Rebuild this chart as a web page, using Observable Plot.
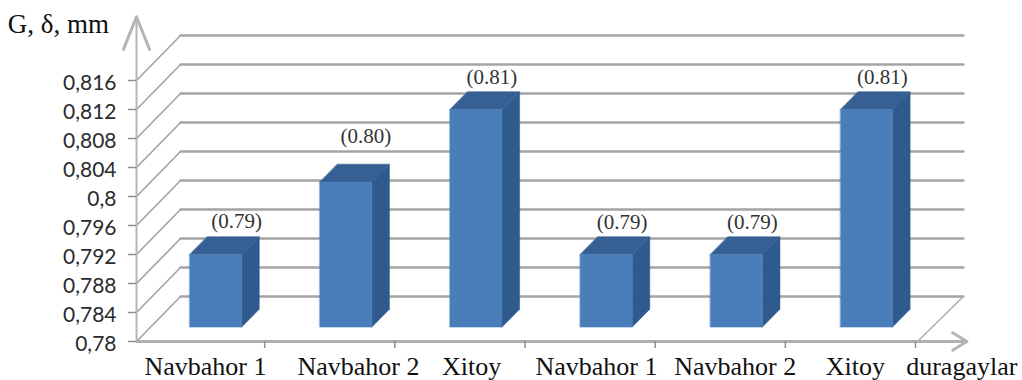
<!DOCTYPE html>
<html>
<head>
<meta charset="utf-8">
<script src="https://cdn.jsdelivr.net/npm/d3@7"></script>
<script src="https://cdn.jsdelivr.net/npm/@observablehq/plot@0.6"></script>
<style>
  html, body { margin: 0; padding: 0; background: #fff; }
  svg { display: block; }
</style>
</head>
<body>
<div id="chart"></div>
<script>
// Measured thickness by stop
const stops = ["Navbahor 1", "Navbahor 2", "Xitoy", "Navbahor 1", "Navbahor 2", "Xitoy"];
const thickness = [0.79, 0.80, 0.81, 0.79, 0.79, 0.81];
const valueLabels = ["(0.79)", "(0.80)", "(0.81)", "(0.79)", "(0.79)", "(0.81)"];
const yTicks = [0.78, 0.784, 0.788, 0.792, 0.796, 0.8, 0.804, 0.808, 0.812, 0.816];
const yTickLabels = ["0,78", "0,784", "0,788", "0,792", "0,796", "0,8", "0,804", "0,808", "0,812", "0,816"];
const xAxisTitle = "duragaylar";
const yAxisTitle = "G, δ, mm";

// Category caption anchors along the floor, in stop units
const captionAnchors = [0.53, 1.705, 2.574, 3.534, 4.60, 5.523];

// Oblique projection: how far one full unit of depth moves a point
const skewX = 0.338;
const skewY = 0.0062;
const project = (x, v, depth) => ({x: x + depth * skewX, y: v + depth * skewY});

const barWidth = 0.4;
const barFront = 0.32;
const barRear = 0.72;
const yBase = yTicks[0];
const yEnd = yTicks[yTicks.length - 1];
const xEnd = stops.length;

// Wall and floor lines
const wallRight = 6.353;
const slants = yTicks.map((v) => [project(0, v, 0), project(0, v, 1)]);
const backLines = yTicks.map((v) => [project(0, v, 1), {x: wallRight, y: v + skewY}]);
const floorEdge = [project(xEnd, yBase, 0), {x: wallRight, y: yBase + skewY}];

// Three visible faces of each bar
const face = (i, v, which) => {
  const l = i + 0.5 - barWidth / 2, r = i + 0.5 + barWidth / 2;
  if (which === "front") return [[l, yBase, barFront], [r, yBase, barFront], [r, v, barFront], [l, v, barFront]];
  if (which === "side") return [[r, yBase, barFront], [r, yBase, barRear], [r, v, barRear], [r, v, barFront]];
  return [[l, v, barFront], [r, v, barFront], [r, v, barRear], [l, v, barRear]];
};
const faces = (which) => thickness.flatMap((v, i) =>
  face(i, v, which).map(([x, y, d]) => ({bar: i, ...project(x, y, d)})));

const faceMark = (which, color) =>
  Plot.line(faces(which), {x: "x", y: "y", z: "bar", fill: color, stroke: color, strokeWidth: 0.5, curve: "linear-closed"});

const gridLine = (segments, color, strokeWidth) =>
  Plot.line(segments.flatMap((s, k) => s.map((p) => ({...p, k}))), {x: "x", y: "y", z: "k", stroke: color, strokeWidth});

const serif = "'Liberation Serif', 'Times New Roman', serif";
const labelled = thickness.map((v, i) => ({i, v, text: valueLabels[i]}));
const labelMark = (rows, dx, dy) =>
  Plot.text(rows, {
    x: (d) => project(d.i + 0.5, d.v, barFront).x,
    y: (d) => project(d.i + 0.5, d.v, barFront).y,
    text: "text", dx, dy, fontFamily: serif, fontSize: 21, fill: "#333"
  });

const chart = Plot.plot({
  width: 1022,
  height: 380,
  marginLeft: 136,
  marginRight: 105,
  marginTop: 80,
  marginBottom: 39,
  style: {background: "#fff", overflow: "visible"},
  x: {domain: [0, xEnd], axis: null},
  y: {domain: [yBase, yEnd], axis: null},
  marks: [
    gridLine(slants, "#a2a2a2", 1.6),
    gridLine(backLines, "#a4a4a4", 2.4),
    gridLine([floorEdge], "#b0b0b0", 1.6),
    faceMark("side", "#2f5a8e"),
    faceMark("top", "#365f93"),
    faceMark("front", "#4a7ebb"),
    labelMark(labelled.filter((d) => d.i === 0), 21, -33),
    labelMark(labelled.filter((d) => d.i === 1), 20, -46),
    labelMark(labelled.filter((d) => d.i > 1), 16, -32),
    // Axes with their arrowheads
    Plot.ruleX([0], {y1: yBase, y2: 0.8248, stroke: "#b5b5b5", strokeWidth: 2}),
    Plot.ruleY([yBase], {x1: 0, x2: 6.38, stroke: "#b0b0b0", strokeWidth: 3}),
    Plot.line([{x: -0.1, y: 0.8203}, {x: 0, y: 0.8248}, {x: 0.1, y: 0.8203}], {x: "x", y: "y", stroke: "#b5b5b5", strokeWidth: 3}),
    Plot.line([{x: 6.27, y: 0.7812}, {x: 6.38, y: yBase}, {x: 6.27, y: 0.7788}], {x: "x", y: "y", stroke: "#b5b5b5", strokeWidth: 3}),
    Plot.axisY(yTicks, {anchor: "left", tickSize: 8, tickFormat: () => "", stroke: "#8f8f8f", strokeWidth: 1.5, label: null}),
    Plot.axisY(yTicks, {
      anchor: "left", tickSize: 0, tickPadding: 20, dy: 3,
      tickFormat: (d) => yTickLabels[yTicks.indexOf(d)],
      fontFamily: "Lato, sans-serif", fontSize: 21, fill: "#2b2b2b", label: null
    }),
    Plot.axisX(d3.range(1, xEnd + 1), {anchor: "bottom", tickSize: 7, tickFormat: () => "", dx: -2, stroke: "#8f8f8f", strokeWidth: 1.5, label: null}),
    Plot.text(stops, {
      x: (d, i) => captionAnchors[i], y: yBase, dy: 25,
      fontFamily: serif, fontSize: 26, fill: "#111"
    }),
    Plot.text([xAxisTitle], {x: [6.34], y: [yBase], dy: 25, fontFamily: serif, fontSize: 26, fill: "#111"}),
    Plot.text([yAxisTitle], {x: [-0.6], y: [0.8237], fontFamily: serif, fontSize: 27, fill: "#111"})
  ]
});
document.getElementById("chart").append(chart);
</script>
</body>
</html>
